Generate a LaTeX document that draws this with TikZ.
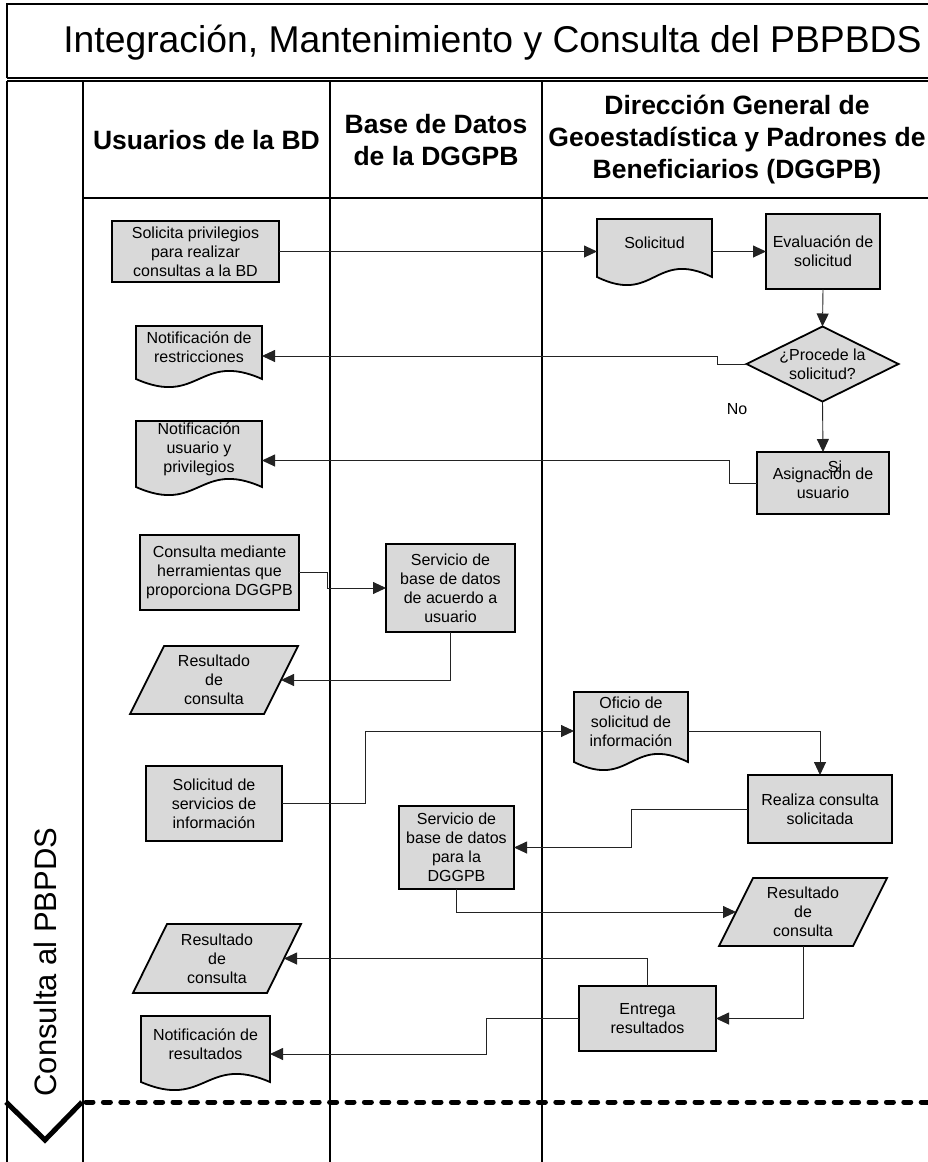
\documentclass[tikz,border=0pt]{standalone}
\usepackage{fontspec}
\setmainfont{Liberation Sans}
\usetikzlibrary{arrows.meta,calc,backgrounds}
\definecolor{boxgray}{RGB}{217,217,217}
\definecolor{linegray}{RGB}{35,35,35}
\tikzset{
  every node/.style={inner sep=0pt, outer sep=0pt},
  txt/.style={font=\fontsize{16}{19}\selectfont, align=center},
  procbox/.style={txt, draw=black, line width=1.8pt, fill=boxgray},
  shapebox/.style={txt},
  shapefill/.style={draw=black, line width=1.8pt, fill=boxgray, line join=miter},
  conn/.style={line width=0.9pt, draw=linegray, -{Triangle[length=13pt,width=12pt]}},
  lane/.style={line width=1.2pt, draw=black},
  hdr/.style={font=\bfseries\fontsize{26.5}{32}\selectfont, align=center},
}
\newcommand\docshape[1]{%
  \path[shapefill] let \p1=(#1.south west), \p2=(#1.north east) in
    (\x1,\y2) -- (\x2,\y2) -- (\x2,{\y1-10pt})
    .. controls ({(\x1+\x2)/2},{\y1-10pt+28pt}) and ({(\x1+\x2)/2},{\y1-10pt-28pt}) ..
    (\x1,{\y1-10pt}) -- cycle;}
\newcommand\parashape[1]{%
  \path[shapefill] let \p1=(#1.south west), \p2=(#1.north east) in
    (\x1,\y1) -- ({\x1+34pt},\y2) -- (\x2,\y2) -- ({\x2-34pt},\y1) -- cycle;}
\newcommand\diashape[1]{%
  \path[shapefill] (#1.north) -- (#1.east) -- (#1.south) -- (#1.west) -- cycle;}
\begin{document}
\begin{tikzpicture}[x=1pt,y=-1pt]
\useasboundingbox (0,0) rectangle (927,1162);
% title frame and pool
\draw[lane] (7,78) -- (7,4) -- (940,4);
\draw[lane] (7,78) -- (940,78);
\draw[lane] (7,81) -- (940,81);
\draw[lane] (7,81) -- (7,1170);
\draw[lane] (83,81) -- (83,1170);
\draw[lane] (330,81) -- (330,1170);
\draw[lane] (542,81) -- (542,1170);
\draw[lane] (83,198) -- (940,198);
% title, headers, lane label
\node[font=\fontsize{37.3}{44}\selectfont] (title) at (492.5,43) {Integración, Mantenimiento y Consulta del PBPBDS};
\node[hdr] (h1) at (206.5,140) {Usuarios de la BD};
\node[hdr] (h2) at (436,140) {Base de Datos\\de la DGGPB};
\node[hdr] (h3) at (737,140) {Dirección General de\\Geoestadística y Padrones de\\Beneficiarios (DGGPB)};
\node[rotate=90, font=\fontsize{31}{36}\selectfont] (lanelbl) at (45,962) {Consulta al PBPDS};
% end of lane
\draw[line width=5pt, line cap=round, dash pattern=on 7pt off 10.4pt] (86,1102) -- (935,1102);
\draw[line width=5pt, line join=miter] (6,1102) -- (45,1140) -- (82,1102);

% process boxes
\node[procbox, minimum width=167pt, minimum height=61pt] (sp) at (195.5,251.5) {Solicita privilegios\\para realizar\\consultas a la BD};
\node[procbox, minimum width=114pt, minimum height=75pt] (ev) at (823,251.5) {Evaluación de\\solicitud};
\node[procbox, minimum width=132pt, minimum height=62pt] (asg) at (823,483) {Asignación de\\usuario};
\node[procbox, minimum width=159pt, minimum height=75pt] (cm) at (219.5,572.5) {Consulta mediante\\herramientas que\\proporciona DGGPB};
\node[procbox, minimum width=129pt, minimum height=88pt] (sbda) at (450.5,588) {Servicio de\\base de datos\\de acuerdo a\\usuario};
\node[procbox, minimum width=136pt, minimum height=75pt] (ssi) at (214,803.5) {Solicitud de\\servicios de\\información};
\node[procbox, minimum width=144pt, minimum height=68pt] (rc) at (820,809) {Realiza consulta\\solicitada};
\node[procbox, minimum width=115pt, minimum height=83pt] (sbdb) at (456.5,847.5) {Servicio de\\base de datos\\para la\\DGGPB};
\node[procbox, minimum width=137pt, minimum height=65pt] (er) at (647.5,1018.5) {Entrega\\resultados};

% documents, parallelograms, decision (text nodes; shapes drawn behind)
\node[shapebox, minimum width=115pt, minimum height=48pt] (sol) at (654.5,243) {Solicitud};
\node[shapebox, minimum width=126pt, minimum height=43pt] (nr) at (199,347.5) {Notificación de\\restricciones};
\node[shapebox, minimum width=126pt, minimum height=56pt] (nu) at (199,449) {Notificación\\usuario y\\privilegios};
\node[shapebox, minimum width=114pt, minimum height=60pt] (of) at (631,722) {Oficio de\\solicitud de\\información};
\node[shapebox, minimum width=129pt, minimum height=56pt] (nres) at (205.5,1044) {Notificación de\\resultados};
\node[shapebox, minimum width=168pt, minimum height=68pt] (ra) at (214,680) {Resultado\\de\\consulta};
\node[shapebox, minimum width=168pt, minimum height=68pt] (rb) at (803,912) {Resultado\\de\\consulta};
\node[shapebox, minimum width=168pt, minimum height=69pt] (rcx) at (217,958.5) {Resultado\\de\\consulta};
\node[shapebox, minimum width=152pt, minimum height=75pt] (dec) at (822.5,364) {¿Procede la\\solicitud?};
\begin{scope}[on background layer]
  \docshape{sol}\docshape{nr}\docshape{nu}\docshape{of}\docshape{nres}
  \parashape{ra}\parashape{rb}\parashape{rcx}
  \diashape{dec}
\end{scope}
\coordinate (rae) at ([xshift=-17pt]ra.east);
\coordinate (rbw) at ([xshift=17pt]rb.west);
\coordinate (rce) at ([xshift=-17pt]rcx.east);

% labels
\node[txt] (no) at (737,409) {No};
\node[txt] (si) at (835,467) {Si};

% connectors
\draw[conn] (sp.east) -- (sp.east -| sol.west);
\draw[conn] (ev.west -| sol.east) -- (ev.west);
\draw[conn] (ev.south) -- (dec.north);
\draw[conn] (dec.west) -- ++(-29,0) |- ([yshift=-8.5pt]nr.east);
\draw[conn] (dec.south) -- (asg.north);
\draw[conn] (asg.west) -- ++(-28,0) |- ([yshift=-11.5pt]nu.east);
\draw[conn] (cm.east) -- ++(28,0) |- (sbda.west);
\draw[conn] (sbda.south) |- (rae);
\draw[conn] (ssi.east) -- ++(83,0) |- ([yshift=-9pt]of.west);
\draw[conn] ([yshift=-9pt]of.east) -| (rc.north);
\draw[conn] (rc.west) -- ++(-117,0) |- (sbdb.east);
\draw[conn] (sbdb.south) |- (rbw);
\draw[conn] (rb.south) |- (er.east);
\draw[conn] (er.north) |- (rce);
\draw[conn] (er.west) -- ++(-93,0) |- ([yshift=-10pt]nres.east);
\end{tikzpicture}
\end{document}
